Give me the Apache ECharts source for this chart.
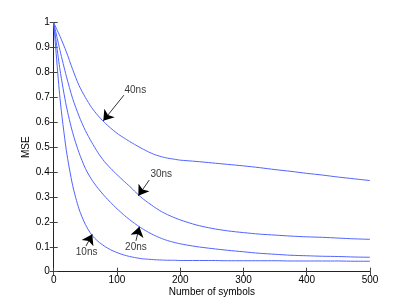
<!DOCTYPE html>
<html>
<head>
<meta charset="utf-8">
<script src="https://cdn.jsdelivr.net/npm/echarts@6/dist/echarts.min.js"></script>
<style>html,body{margin:0;padding:0;background:#fff;}#c{width:409px;height:307px;}</style>
</head>
<body>
<div id="c"></div>
<script>
var xValues = [0,10,20,30,40,50,60,70,80,90,100,110,120,130,140,150,160,170,180,190,200,225,250,275,300,325,350,375,400,425,450,475,500];
var mse10 = [1.0,0.695,0.487,0.346,0.252,0.19,0.148,0.122,0.103,0.088,0.077,0.068,0.061,0.056,0.052,0.05,0.048,0.047,0.046,0.046,0.045,0.045,0.045,0.044,0.044,0.044,0.044,0.043,0.043,0.043,0.043,0.042,0.042];
var mse20 = [1.0,0.81,0.665,0.558,0.478,0.415,0.37,0.335,0.305,0.278,0.253,0.23,0.209,0.19,0.173,0.158,0.145,0.134,0.125,0.118,0.112,0.101,0.093,0.086,0.08,0.074,0.07,0.066,0.064,0.062,0.061,0.059,0.058];
var mse30 = [1.0,0.888,0.785,0.695,0.625,0.567,0.52,0.478,0.443,0.415,0.39,0.366,0.343,0.318,0.295,0.276,0.258,0.242,0.229,0.218,0.208,0.188,0.174,0.164,0.157,0.151,0.147,0.143,0.14,0.138,0.135,0.132,0.13];
var mse40 = [1.0,0.945,0.883,0.812,0.748,0.7,0.659,0.627,0.6,0.577,0.556,0.539,0.523,0.508,0.494,0.481,0.47,0.462,0.456,0.452,0.448,0.443,0.437,0.431,0.425,0.418,0.41,0.403,0.395,0.388,0.38,0.373,0.366];
var seriesNames = ['10ns','20ns','30ns','40ns'];
var xTicks = [0,100,200,300,400,500];
var yTicks = [0,0.1,0.2,0.3,0.4,0.5,0.6,0.7,0.8,0.9,1];
// annotations: label text position, arrow start, arrow tip (data coords)
var annText = [[52,0.078],[130,0.100],[170,0.391],[129,0.730]];
var annFrom = [[51,0.103],[130,0.124],[151,0.368],[111,0.709]];
var annTip  = [[61,0.150],[135.4,0.181],[133.8,0.305],[78.4,0.606]];

var chart = echarts.init(document.getElementById('c'), null, {renderer:'canvas'});
var font = 'Liberation Sans, Arial, Helvetica, sans-serif';
var all = [mse10, mse20, mse30, mse40];
var series = all.map(function(arr, i){
  return {
    type:'line', name: seriesNames[i],
    data: xValues.map(function(x, j){ return [x, arr[j]]; }),
    showSymbol:false, smooth:0.25,
    lineStyle:{color:'#5064ff', width:1},
    itemStyle:{color:'#5064ff'},
    silent:true, z:2
  };
});
series.push({
  type:'lines', coordinateSystem:'cartesian2d', silent:true, z:5,
  symbol:['none','arrow'], symbolSize:10,
  lineStyle:{color:'#000', width:0.8, opacity:1},
  itemStyle:{color:'#000'},
  data: annFrom.map(function(f, i){ return {coords:[f, annTip[i]]}; })
});
series.push({
  type:'scatter', silent:true, symbolSize:0, z:6,
  label:{show:true, position:'inside', color:'#000', fontSize:10, fontFamily:font,
    formatter:function(p){ return seriesNames[p.dataIndex]; }},
  data: annText
});
var axisLineStyle = {color:'#222', width:1};
chart.setOption({
  animation:false,
  grid:{left:53.7, right:39, top:22.7, bottom:35.3, containLabel:false},
  xAxis:[{
    type:'value', min:0, max:500, interval:100, position:'bottom',
    name:'Number of symbols', nameLocation:'middle', nameGap:16, nameMoveOverlap:false,
    nameTextStyle:{color:'#000', fontSize:10, fontFamily:font},
    axisLine:{show:true, lineStyle:axisLineStyle},
    axisTick:{show:true, inside:true, length:4, lineStyle:{color:'#444'}},
    axisLabel:{color:'#000', fontSize:10, fontFamily:font, margin:4,
      formatter:function(v){ return xTicks.indexOf(v)>=0 ? String(v) : ''; }},
    splitLine:{show:false}
  },{
    type:'value', min:0, max:500, interval:100, position:'top',
    axisLine:{show:true, lineStyle:axisLineStyle},
    axisTick:{show:true, inside:true, length:4, lineStyle:{color:'#444'}},
    axisLabel:{show:false}, splitLine:{show:false}
  }],
  yAxis:[{
    type:'value', min:0, max:1, interval:0.1, position:'left',
    name:'MSE', nameLocation:'middle', nameGap:22, nameRotate:90, nameMoveOverlap:false,
    nameTextStyle:{color:'#000', fontSize:10, fontFamily:font},
    axisLine:{show:true, lineStyle:axisLineStyle},
    axisTick:{show:true, inside:true, length:4, lineStyle:{color:'#444'}},
    axisLabel:{color:'#000', fontSize:10, fontFamily:font, margin:4,
      formatter:function(v){ var r=Math.round(v*10)/10; return yTicks.indexOf(r)>=0 ? String(r) : ''; }},
    splitLine:{show:false}
  },{
    type:'value', min:0, max:1, interval:0.1, position:'right',
    axisLine:{show:true, lineStyle:axisLineStyle},
    axisTick:{show:true, inside:true, length:4, lineStyle:{color:'#444'}},
    axisLabel:{show:false}, splitLine:{show:false}
  }],
  series: series
});
</script>
</body>
</html>
